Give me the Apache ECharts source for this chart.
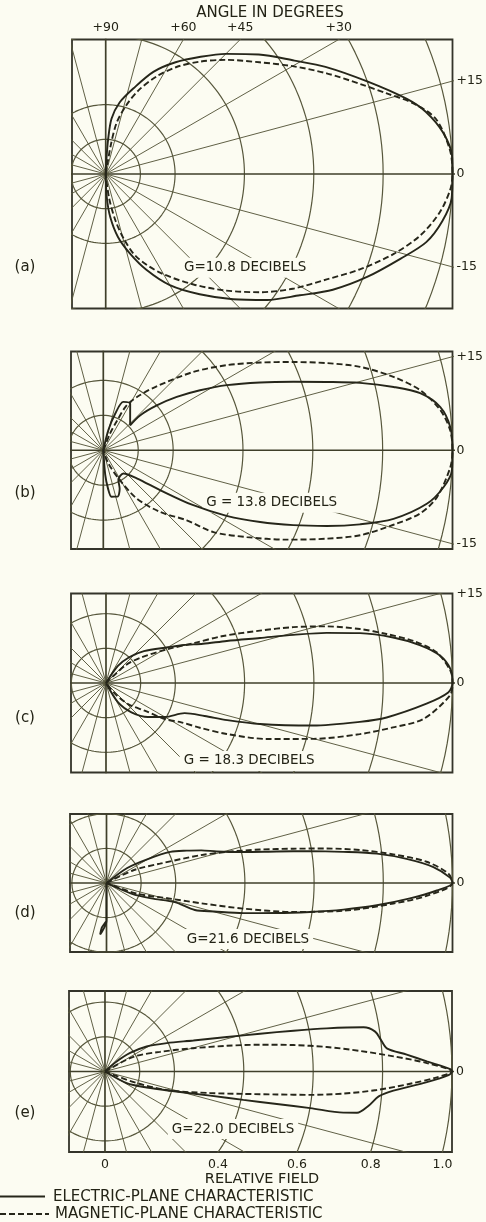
<!DOCTYPE html>
<html>
<head>
<meta charset="utf-8">
<script src="https://cdn.jsdelivr.net/npm/echarts@6/dist/echarts.min.js"></script>
<style>
  html, body { margin: 0; padding: 0; background: #fcfcf2; }
  #chart { width: 486px; height: 1222px; }
</style>
</head>
<body>
<div id="chart"></div>
<script>
// ---- Pattern data: angle in degrees (measured from the horn axis), relative field ----
// Each trace runs from the origin over the upper half of the lobe, through the tip at 0 deg,
// and back over the lower half to the origin.

// (a) G = 10.8 dB
const aElectricAngle = [88, 87, 86, 84, 79, 72, 65, 58, 51, 45, 38, 31, 26, 19.5, 14, 11, 7, 3, 0,
  -4, -8, -12, -16, -21.5, -27, -32, -38, -44.5, -52, -60, -67, -73, -79, -84, -87.5, -89];
const aElectricField = [0, 0.05, 0.10, 0.16, 0.21, 0.26, 0.325, 0.38, 0.435, 0.49, 0.56, 0.635, 0.705, 0.80, 0.895, 0.94, 0.98, 1.0, 1.0,
  1.0, 0.98, 0.945, 0.885, 0.81, 0.735, 0.66, 0.59, 0.515, 0.44, 0.37, 0.30, 0.24, 0.185, 0.125, 0.065, 0];
const aMagneticAngle = [82, 80, 78, 73.5, 68.5, 62.5, 56.5, 50, 43.5, 36, 30, 24.5, 19.5, 16, 13, 9.5, 4, 0,
  -2.5, -6.5, -11, -15.5, -20.5, -25.5, -31.5, -37.5, -44, -51.5, -61, -69.5, -74, -78, -82, -84];
const aMagneticField = [0, 0.085, 0.15, 0.205, 0.26, 0.317, 0.37, 0.423, 0.478, 0.548, 0.622, 0.70, 0.778, 0.843, 0.909, 0.965, 0.995, 1.0,
  0.995, 0.97, 0.925, 0.862, 0.784, 0.706, 0.633, 0.56, 0.484, 0.407, 0.326, 0.256, 0.20, 0.14, 0.07, 0];

// (b) G = 13.8 dB
const bElectricAngle = [78, 76, 72, 67.5, 60, 43, 43.5, 40, 36, 31.8, 27.8, 23.4, 19.8, 17, 14.7, 12.3, 10.2, 7.3, 3.8, 0,
  -3.3, -6.2, -9.4, -13.3, -16.1, -18.7, -21.5, -24.6, -28, -31.5, -35, -40, -49, -63, -67, -73, -80, -83, -85.5, -87];
const bElectricField = [0, 0.059, 0.11, 0.15, 0.154, 0.105, 0.145, 0.20, 0.26, 0.326, 0.40, 0.489, 0.579, 0.669, 0.76, 0.851, 0.922, 0.973, 0.996, 1.0,
  1.0, 0.98, 0.939, 0.854, 0.765, 0.676, 0.585, 0.494, 0.40, 0.30, 0.20, 0.125, 0.088, 0.095, 0.12, 0.139, 0.135, 0.11, 0.07, 0];
const bMagneticAngle = [70, 68, 65, 62.5, 56.3, 50, 41, 34.6, 29.2, 24.9, 21.3, 18, 14.2, 10.7, 6.8, 3.3, 0,
  -2.8, -8, -11.3, -14.4, -18.3, -21.6, -26, -31.2, -36.6, -40, -47.4, -55.3, -61, -69, -72];
const bMagneticField = [0, 0.052, 0.094, 0.145, 0.19, 0.24, 0.342, 0.429, 0.515, 0.60, 0.687, 0.773, 0.857, 0.924, 0.972, 0.995, 1.0,
  0.995, 0.965, 0.925, 0.858, 0.775, 0.688, 0.584, 0.48, 0.393, 0.312, 0.24, 0.168, 0.098, 0.041, 0];

// (c) G = 18.3 dB
const cElectricAngle = [56, 55, 48, 40, 30, 26, 22, 19.2, 16.3, 14.4, 12.8, 11.1, 9, 6.9, 4.7, 2.3, 0,
  -1.6, -3.7, -7, -8.7, -11.6, -14.9, -17, -18.5, -21, -30, -39, -49, -58, -62];
const cElectricField = [0, 0.06, 0.10, 0.143, 0.206, 0.25, 0.302, 0.369, 0.463, 0.558, 0.653, 0.747, 0.839, 0.912, 0.967, 0.995, 1.0,
  0.988, 0.927, 0.816, 0.741, 0.61, 0.46, 0.366, 0.30, 0.243, 0.196, 0.156, 0.112, 0.066, 0];
const cMagneticAngle = [40, 42, 36, 28.7, 24.3, 22, 18.8, 16.6, 14.4, 12, 9.9, 7.8, 5.3, 2, 0,
  -2.1, -6.5, -8.8, -11.4, -15.1, -19.2, -22.9, -25.5, -27.6, -31.5, -35.6, -43.7, -50, -55];
const cMagneticField = [0, 0.077, 0.126, 0.204, 0.281, 0.36, 0.469, 0.564, 0.657, 0.749, 0.822, 0.895, 0.958, 0.995, 1.0,
  0.993, 0.921, 0.838, 0.747, 0.619, 0.491, 0.378, 0.30, 0.245, 0.199, 0.137, 0.088, 0.04, 0];

// (d) G = 21.6 dB
const dElectricAngle = [40, 36, 30, 26, 22, 19, 16, 12.8, 10.5, 8.9, 7.5, 6.2, 4.6, 2.8, 0.9, 0,
  -1.3, -2.9, -4.7, -6.4, -8.1, -10, -12.4, -14.8, -17, -15.6, -19, -23, -28];
const dElectricField = [0, 0.074, 0.14, 0.205, 0.25, 0.29, 0.331, 0.405, 0.50, 0.595, 0.69, 0.786, 0.87, 0.946, 0.993, 1.0,
  0.955, 0.878, 0.784, 0.689, 0.594, 0.50, 0.405, 0.322, 0.267, 0.205, 0.137, 0.078, 0];
const dMagneticAngle = [30, 25.4, 19.9, 16.5, 14.5, 12.3, 10.4, 8.9, 7.4, 5.7, 3.8, 1.6, 0,
  -2.3, -4.1, -6.7, -8.8, -10.6, -12, -13.8, -19.3, -25];
const dMagneticField = [0, 0.086, 0.164, 0.282, 0.359, 0.454, 0.549, 0.644, 0.739, 0.833, 0.927, 0.988, 1.0,
  0.926, 0.831, 0.689, 0.546, 0.402, 0.286, 0.189, 0.092, 0];
// small back lobe below the origin in (d); its inner part runs along the -90 deg spoke
const dBackLobeAngle = [-90, -90, -92, -95, -97, -96, -92, -90];
const dBackLobeField = [0, 0.11, 0.125, 0.14, 0.15, 0.13, 0.115, 0.11];

// (e) G = 22.0 dB
const eElectricAngle = [42, 40.5, 36.4, 31, 24.7, 19.3, 15.8, 13.7, 12.2, 11, 9.7, 8.4, 6.6, 4.7, 3.2, 1.8, 0.4, 0,
  -0.6, -1.9, -3.8, -5.2, -7.4, -9.3, -9.8, -10.1, -10.7, -11.6, -12.9, -16.5, -21, -28.1, -34];
const eElectricField = [0, 0.044, 0.09, 0.14, 0.196, 0.27, 0.365, 0.46, 0.556, 0.651, 0.756, 0.787, 0.80, 0.815, 0.871, 0.928, 0.995, 1.0,
  0.99, 0.928, 0.833, 0.792, 0.766, 0.736, 0.697, 0.601, 0.504, 0.407, 0.311, 0.196, 0.129, 0.071, 0];
const eMagneticAngle = [30, 27.4, 19.7, 14.8, 11.9, 9.8, 8, 6.3, 4.6, 3, 1.5, 0,
  -1, -2.3, -3.9, -5.3, -6.5, -7.6, -9.2, -11.6, -16.3, -20, -26];
const eMagneticField = [0, 0.092, 0.168, 0.263, 0.359, 0.454, 0.548, 0.643, 0.738, 0.833, 0.928, 1.0,
  0.957, 0.88, 0.785, 0.69, 0.595, 0.50, 0.404, 0.309, 0.195, 0.097, 0];

// ---- Grid and scale data ----
const ringRadii = [0.1, 0.2, 0.4, 0.6, 0.8, 1.0];
const spokeAngles = [0, 15, 30, 45, 60, 75, 90, 105, 120, 135, 150, 165];
const topAngleTicks = [90, 60, 45, 30];
const fieldTicks = [0, 0.4, 0.6, 0.8, 1.0];
const fieldTickLabels = ['0', '0.4', '0.6', '0.8', '1.0'];
const gainTexts = ['G=10.8 DECIBELS', 'G = 13.8 DECIBELS', 'G = 18.3 DECIBELS', 'G=21.6 DECIBELS', 'G=22.0 DECIBELS'];
const panelLetters = ['(a)', '(b)', '(c)', '(d)', '(e)'];
const sideTicks = [[15, 0, -15], [15, 0, -15], [15, 0], [0], [0]];

// ---- Layout of the five panels (pixels) ----
const panels = [
  { left: 72, top: 39.5, width: 380.5, height: 269,   xMin: -0.0972, gainAt: [0.402, -0.270], letterY: 267,
    electric: [aElectricAngle, aElectricField], magnetic: [aMagneticAngle, aMagneticField] },
  { left: 71, top: 351.5, width: 381.5, height: 197.5, xMin: -0.0925, gainAt: [0.482, -0.150], letterY: 493,
    electric: [bElectricAngle, bElectricField], magnetic: [bMagneticAngle, bMagneticField] },
  { left: 71, top: 593.5, width: 381.5, height: 179,   xMin: -0.101,  gainAt: [0.413, -0.225], letterY: 718,
    electric: [cElectricAngle, cElectricField], magnetic: [cMagneticAngle, cMagneticField] },
  { left: 70, top: 814,   width: 382.5, height: 138,   xMin: -0.1055, gainAt: [0.409, -0.162], letterY: 913,
    electric: [dElectricAngle, dElectricField], magnetic: [dMagneticAngle, dMagneticField],
    extra: [dBackLobeAngle, dBackLobeField] },
  { left: 69, top: 991,   width: 383,   height: 161,   xMin: -0.1037, gainAt: [0.369, -0.166], letterY: 1113,
    electric: [eElectricAngle, eElectricField], magnetic: [eMagneticAngle, eMagneticField] }
];

const PAPER = '#fcfcf2';
const INK = '#232316';
const GRIDLINE = '#57573c';
const CURVE = '#26261a';
const FONT = '"DejaVu Sans", "Liberation Sans", sans-serif';
const rad = d => d * Math.PI / 180;

function toXY(angles, field) {
  return angles.map((a, i) => [field[i] * Math.cos(rad(a)), field[i] * Math.sin(rad(a))]);
}
function ringPoints(r) {
  const pts = [];
  for (let a = 0; a <= 360; a += 2) pts.push([r * Math.cos(rad(a)), r * Math.sin(rad(a))]);
  return pts;
}
// text-only scatter: invisible symbol, fully opaque label
function labelSeries(extra, label) {
  return Object.assign({ type: 'scatter', symbolSize: 0, z: 3, clip: false, silent: true,
    itemStyle: { opacity: 1, color: 'transparent' },
    label: Object.assign({ show: true, formatter: '{b}', color: INK, opacity: 1, fontFamily: FONT, fontSize: 12.5 }, label)
  }, extra);
}

const grids = [], xAxes = [], yAxes = [], series = [];

panels.forEach((p, i) => {
  const scale = p.width / (1 - p.xMin);
  const yHalf = (p.height / 2) / scale;
  p.yHalf = yHalf;
  grids.push({ left: p.left, top: p.top, width: p.width, height: p.height, show: true,
    borderColor: '#34342a', borderWidth: 1.8, backgroundColor: 'transparent', containLabel: false });
  xAxes.push({ type: 'value', gridIndex: i, min: p.xMin, max: 1.0, show: false });
  yAxes.push({ type: 'value', gridIndex: i, min: -yHalf, max: yHalf, show: false });

  const base = { xAxisIndex: i, yAxisIndex: i, silent: true, animation: false };

  // constant-field circles
  ringRadii.forEach(r => {
    series.push(Object.assign({ type: 'line', data: ringPoints(r), symbol: 'none', z: 1,
      lineStyle: { color: GRIDLINE, width: 1.2 } }, base));
  });
  // angle spokes through the origin
  spokeAngles.forEach(a => {
    const R = 1.6;
    const main = (a === 0 || a === 90);
    series.push(Object.assign({ type: 'line', symbol: 'none', z: 1,
      data: [[-R * Math.cos(rad(a)), -R * Math.sin(rad(a))], [R * Math.cos(rad(a)), R * Math.sin(rad(a))]],
      lineStyle: { color: main ? '#3f3f2a' : GRIDLINE, width: main ? 1.7 : 0.95 } }, base));
  });

  // gain annotation with a paper-coloured box over the grid
  series.push(labelSeries(Object.assign({ data: [{ name: gainTexts[i], value: p.gainAt }] }, base),
    { position: 'inside', fontSize: 13.5, backgroundColor: PAPER, padding: [3, 4] }));

  // angle labels along the right edge
  series.push(labelSeries(Object.assign({
    data: sideTicks[i].map(a => ({
      name: a > 0 ? '+' + a : String(a),
      value: [1.0, Math.max(-yHalf, Math.min(yHalf, Math.tan(rad(a))))]
    }))
  }, base), { position: 'right', distance: 4 }));

  // measured patterns
  const curve = (pair, dashed) => Object.assign({ type: 'line', data: toXY(pair[0], pair[1]), symbol: 'none',
    smooth: 0.3, z: 4, lineStyle: { color: CURVE, width: 1.9, type: dashed ? [6, 3] : 'solid' } }, base);
  series.push(curve(p.electric, false));
  series.push(curve(p.magnetic, true));
  if (p.extra) series.push(curve(p.extra, false));
});

// angle labels along the top of panel (a)
series.push(labelSeries({ xAxisIndex: 0, yAxisIndex: 0,
  data: topAngleTicks.map(a => ({ name: '+' + a, value: [a === 90 ? 0 : panels[0].yHalf / Math.tan(rad(a)), panels[0].yHalf] }))
}, { position: 'top', distance: 5 }));

// relative-field labels where the circles meet the bottom of panel (e)
series.push(labelSeries({ xAxisIndex: 4, yAxisIndex: 4,
  data: fieldTicks.map((r, k) => {
    const h = panels[4].yHalf;
    return { name: fieldTickLabels[k], value: [r === 0 ? 0 : Math.sqrt(r * r - h * h), -h] };
  })
}, { position: 'bottom', distance: 6 }));

const textStyle = (text, x, y, size, align) => ({
  type: 'text', x: x, y: y, z: 10,
  style: { text: text, fill: INK, font: size + 'px ' + FONT, textAlign: align || 'center', textVerticalAlign: 'middle',
    align: align || 'center', verticalAlign: 'middle' }
});

const graphic = [
  textStyle('ANGLE IN DEGREES', 270, 13, 15),
  textStyle('RELATIVE FIELD', 262, 1179, 14.5),
  { type: 'line', z: 10, shape: { x1: 0, y1: 1196.5, x2: 45, y2: 1196.5 }, style: { stroke: CURVE, lineWidth: 1.8 } },
  textStyle('ELECTRIC-PLANE CHARACTERISTIC', 53, 1197, 15, 'left'),
  { type: 'line', z: 10, shape: { x1: 0, y1: 1214, x2: 49, y2: 1214 }, style: { stroke: CURVE, lineWidth: 1.8, lineDash: [6, 3] } },
  textStyle('MAGNETIC-PLANE CHARACTERISTIC', 55, 1214.5, 15, 'left')
];
panels.forEach((p, i) => graphic.push(textStyle(panelLetters[i], 25, p.letterY, 15)));

const chart = echarts.init(document.getElementById('chart'), null, { renderer: 'canvas' });
chart.setOption({
  backgroundColor: PAPER,
  animation: false,
  grid: grids,
  xAxis: xAxes,
  yAxis: yAxes,
  series: series,
  graphic: graphic
});
</script>
</body>
</html>
